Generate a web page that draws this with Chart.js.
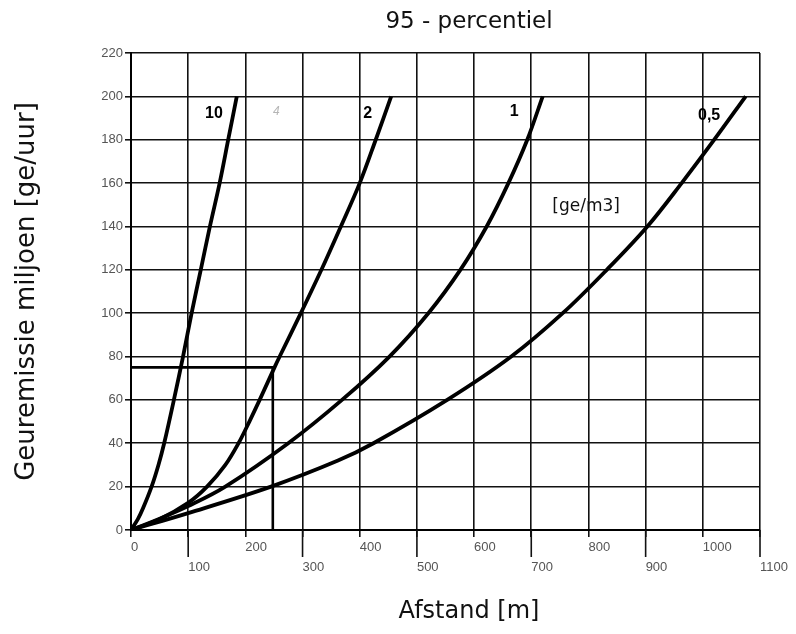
<!DOCTYPE html>
<html>
<head>
<meta charset="utf-8">
<script src="https://cdn.jsdelivr.net/npm/chart.js@4"></script>
<style>
  html, body { margin: 0; padding: 0; background: #fff; }
  canvas { display: block; }
</style>
</head>
<body>
<canvas id="grafiek" width="796" height="634"></canvas>
<script>
// Afstand [m] en geuremissie [miljoen ge/uur] per concentratielijn (ge/m3)
const afstand10 = [0, 12, 21, 36, 48, 58, 75, 91, 106, 122, 138, 155, 170, 185];
const emissie10 = [0, 5, 10, 20, 30, 40, 60, 80, 100, 120, 140, 160, 180, 200];

const afstand2 = [0, 50, 100, 133, 165, 188, 207, 225, 251, 260, 297, 333, 367, 400, 428, 455];
const emissie2 = [0, 5, 12.5, 20, 30, 40, 50, 60, 75, 80, 100, 120, 140, 160, 180, 200];

const afstand1 = [0, 50, 100, 165, 275, 369, 452, 520, 576, 622, 660, 693, 720];
const emissie1 = [0, 5.2, 11, 20, 40, 60, 80, 100, 120, 140, 160, 180, 200];

const afstand05 = [0, 100, 245, 362, 424, 553, 665, 755, 832, 903, 963, 1020, 1075];
const emissie05 = [0, 7.8, 20, 32, 40, 60, 80, 100, 120, 140, 160, 180, 200];

// voorbeeld-aflezing: 75 miljoen ge/uur bij ca. 248 m
const voorbeeldAfstand = [0, 248, 248];
const voorbeeldEmissie = [75, 75, 0];

// labels bij de lijnen (positie in aswaarden)
const lijnLabels = ['10', '4', '2', '1', '0,5'];
const labelAfstand = [145, 254, 414, 670, 1011];
const labelEmissie = [192, 193, 192, 193, 191];

const xTicks = [0, 100, 200, 300, 400, 500, 600, 700, 800, 900, 1000, 1100];
const yTicks = [0, 20, 40, 60, 80, 100, 120, 140, 160, 180, 200, 220];

function punten(xs, ys) {
    return xs.map((v, i) => ({ x: v, y: ys[i] }));
}

function lijn(xs, ys) {
    return {
        data: punten(xs, ys),
        borderColor: '#000',
        borderWidth: 3.8,
        pointRadius: 0,
        tension: 0.35,
        fill: false
    };
}

// titels, lijnlabels en de lange tickstreepjes
const tekstPlugin = {
    id: 'teksten',
    afterDraw(chart) {
        const ctx = chart.ctx;
        const x = chart.scales.x;
        const y = chart.scales.y;
        ctx.save();

        // lange streepjes onder de as bij 100, 300, 500 ...
        ctx.strokeStyle = '#111';
        ctx.lineWidth = 1.6;
        xTicks.forEach((v, i) => {
            if (i % 2 === 1) {
                const px = x.getPixelForValue(v);
                ctx.beginPath();
                ctx.moveTo(px, y.bottom);
                ctx.lineTo(px, y.bottom + 27);
                ctx.stroke();
            }
        });

        ctx.textAlign = 'center';
        ctx.textBaseline = 'middle';
        lijnLabels.forEach((t, i) => {
            if (t === '4') {
                ctx.font = 'italic 12px "Liberation Sans"';
                ctx.fillStyle = '#b5b5b5';
            } else {
                ctx.font = 'bold 16px "Liberation Sans"';
                ctx.fillStyle = '#000';
            }
            ctx.fillText(t, x.getPixelForValue(labelAfstand[i]), y.getPixelForValue(labelEmissie[i]));
        });

        ctx.fillStyle = '#111';
        ctx.font = '17px "DejaVu Sans"';
        ctx.fillText('[ge/m3]', x.getPixelForValue(796), y.getPixelForValue(149));

        ctx.font = '23px "DejaVu Sans"';
        ctx.fillText('95 - percentiel', 469, 22);
        ctx.font = '24px "DejaVu Sans"';
        ctx.fillText('Afstand [m]', 469, 612);
        ctx.restore();
    }
};

new Chart(document.getElementById('grafiek'), {
    type: 'line',
    data: {
        datasets: [
            lijn(afstand10, emissie10),
            lijn(afstand2, emissie2),
            lijn(afstand1, emissie1),
            lijn(afstand05, emissie05),
            {
                data: punten(voorbeeldAfstand, voorbeeldEmissie),
                borderColor: '#000',
                borderWidth: 2.6,
                pointRadius: 0,
                tension: 0,
                fill: false
            }
        ]
    },
    options: {
        responsive: false,
        animation: false,
        layout: { padding: { top: 53, right: 36, bottom: 0, left: 0 } },
        plugins: {
            legend: { display: false },
            tooltip: { enabled: false }
        },
        scales: {
            x: {
                type: 'linear',
                min: 0,
                max: 1100,
                afterBuildTicks: (s) => { s.ticks = xTicks.map(v => ({ value: v })); },
                afterFit: (s) => { s.height = 104; },
                grid: { color: '#111', lineWidth: 1.6, tickLength: 7, tickColor: '#111' },
                border: { color: '#000', width: 2 },
                ticks: {
                    align: 'start',
                    padding: 1,
                    color: '#555',
                    font: { family: 'Liberation Sans', size: 13, lineHeight: 1.5 },
                    maxRotation: 0,
                    autoSkip: false,
                    callback: (v, i) => (i % 2 === 1 ? ['', String(v)] : String(v))
                }
            },
            y: {
                type: 'linear',
                min: 0,
                max: 220,
                afterBuildTicks: (s) => { s.ticks = yTicks.map(v => ({ value: v })); },
                afterFit: (s) => { s.width = 131; },
                grid: { color: '#111', lineWidth: 1.6, tickLength: 6, tickColor: '#111' },
                border: { color: '#000', width: 2 },
                ticks: {
                    padding: 2,
                    color: '#555',
                    font: { family: 'Liberation Sans', size: 13 },
                    autoSkip: false
                },
                title: {
                    display: true,
                    text: 'Geuremissie miljoen [ge/uur]',
                    color: '#111',
                    font: { family: 'DejaVu Sans', size: 26, lineHeight: 1.2 },
                    padding: { top: 12, bottom: 0 }
                }
            }
        }
    },
    plugins: [tekstPlugin]
});
</script>
</body>
</html>
